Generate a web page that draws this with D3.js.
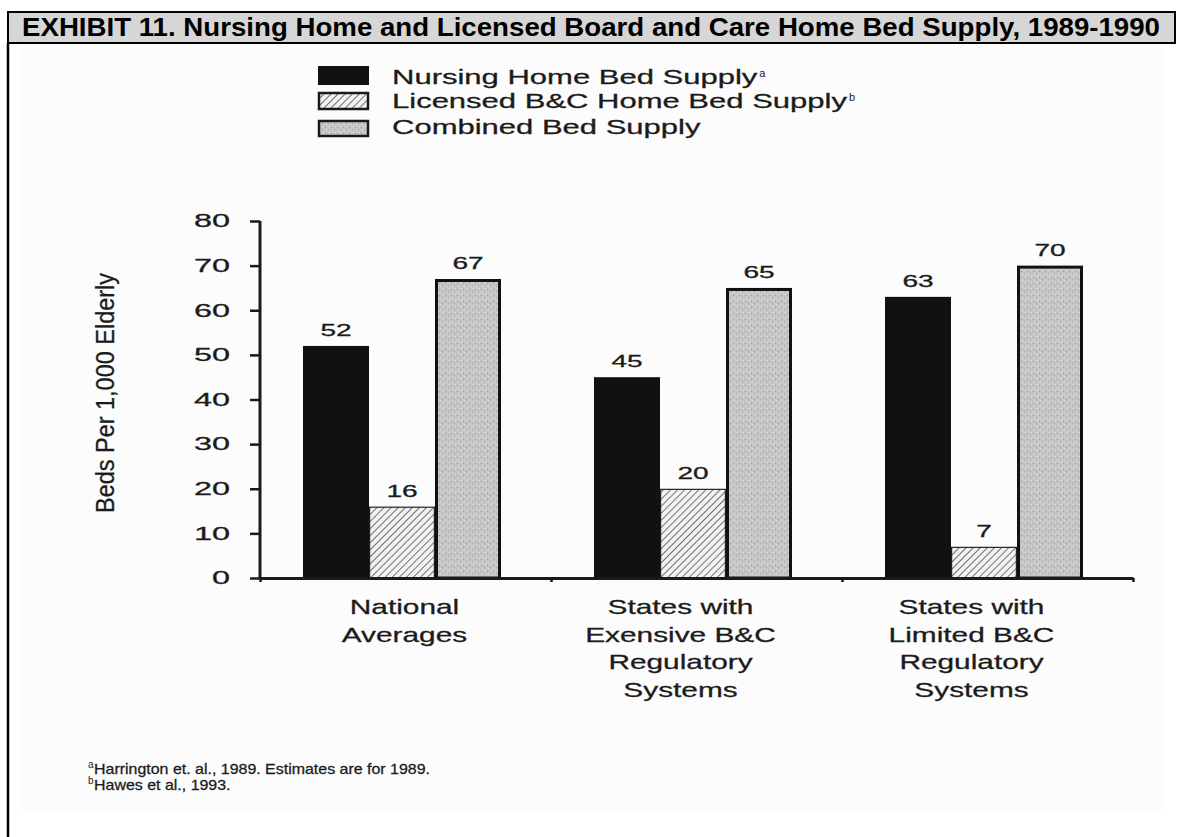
<!DOCTYPE html>
<html>
<head>
<meta charset="utf-8">
<script src="https://cdn.jsdelivr.net/npm/d3@7"></script>
<style>
  body { margin: 0; background: #fff; }
  svg text { font-family: "Liberation Sans", Arial, sans-serif; fill: #1b1b1b; }
  .scan { stroke: #1b1b1b; stroke-width: 0.28; }
  .title { font-weight: bold; fill: #000; }
</style>
</head>
<body>
<div id="chart"></div>
<script>
var svgWidth = 1177;
var svgHeight = 837;

// chart values
var categories = [
  ["National", "Averages"],
  ["States with", "Exensive B&C", "Regulatory", "Systems"],
  ["States with", "Limited B&C", "Regulatory", "Systems"]
];
var seriesNames = ["Nursing Home Bed Supply", "Licensed B&C Home Bed Supply", "Combined Bed Supply"];
var seriesSup = ["a", "b", ""];
var nursingHome = [52, 45, 63];
var licensedBC = [16, 20, 7];
var combined = [67, 65, 70];
var yTicks = [0, 10, 20, 30, 40, 50, 60, 70, 80];
var footnotes = [
  ["a", "Harrington et. al., 1989.  Estimates are for 1989."],
  ["b", "Hawes et al., 1993."]
];

var series = [nursingHome, licensedBC, combined];

var svg = d3.select("#chart")
  .append("svg")
  .attr("width", svgWidth)
  .attr("height", svgHeight);

// stretch text horizontally, the scanned type is wide
function stretch(sel, k) {
  sel.each(function() {
    var w = this.getComputedTextLength();
    d3.select(this).attr("textLength", w * k).attr("lengthAdjust", "spacingAndGlyphs");
  });
}

var defs = svg.append("defs");

var hatch = defs.append("pattern")
  .attr("id", "hatch")
  .attr("patternUnits", "userSpaceOnUse")
  .attr("width", 5)
  .attr("height", 5)
  .attr("patternTransform", "rotate(45)");
hatch.append("rect").attr("width", 5).attr("height", 5).attr("fill", "#f2f2f2");
hatch.append("line")
  .attr("x1", 0).attr("y1", 0).attr("x2", 0).attr("y2", 5)
  .attr("stroke", "#3a3a3a").attr("stroke-width", 1.4);

var dots = defs.append("pattern")
  .attr("id", "dots")
  .attr("patternUnits", "userSpaceOnUse")
  .attr("width", 6)
  .attr("height", 6);
dots.append("rect").attr("width", 6).attr("height", 6).attr("fill", "#c6c6c6");
dots.append("rect").attr("x", 1).attr("y", 1).attr("width", 1).attr("height", 1).attr("fill", "#959595");
dots.append("rect").attr("x", 4).attr("y", 3).attr("width", 1).attr("height", 1).attr("fill", "#a2a2a2");
dots.append("rect").attr("x", 2).attr("y", 4).attr("width", 1).attr("height", 1).attr("fill", "#e0e0e0");
dots.append("rect").attr("x", 5).attr("y", 0).attr("width", 1).attr("height", 1).attr("fill", "#e4e4e4");

var fills = ["#111", "url(#hatch)", "url(#dots)"];
var strokes = [{ c: "#111", w: 0 }, { c: "#222", w: 1.2 }, { c: "#111", w: 3 }];

// scanned area and frame
svg.append("rect")
  .attr("x", 22).attr("y", 44).attr("width", 1140).attr("height", 768)
  .attr("fill", "#fcfcfc");

svg.append("rect")
  .attr("x", 8).attr("y", 12).attr("width", 1167).attr("height", 31)
  .attr("fill", "#d6d6d6").attr("stroke", "#000").attr("stroke-width", 2);

svg.append("line")
  .attr("x1", 8).attr("y1", 43).attr("x2", 8).attr("y2", svgHeight)
  .attr("stroke", "#000").attr("stroke-width", 2.5);

svg.append("text")
  .attr("class", "title")
  .attr("x", 22)
  .attr("y", 36)
  .attr("font-size", 25)
  .attr("textLength", 1138)
  .attr("lengthAdjust", "spacingAndGlyphs")
  .text("EXHIBIT 11. Nursing Home and Licensed Board and Care Home Bed Supply, 1989-1990");

// scales
var xEdge = d3.scaleLinear().domain([0, 3]).range([260, 1133]);
var x0 = d3.scaleBand().domain(d3.range(categories.length)).range([260, 1133]);
var x1 = d3.scaleBand().domain(d3.range(series.length)).range([43, 241]);
var y = d3.scaleLinear().domain([0, 80]).range([578, 221]);

// bars
series.forEach(function(vals, s) {
  var g = svg.append("g");
  g.selectAll("rect")
    .data(vals)
    .enter()
    .append("rect")
    .attr("x", (d, i) => x0(i) + x1(s) + strokes[s].w / 2)
    .attr("y", d => y(d) + strokes[s].w / 2)
    .attr("width", x1.bandwidth() - strokes[s].w)
    .attr("height", d => y(0) - y(d) - strokes[s].w / 2)
    .attr("fill", fills[s])
    .attr("stroke", strokes[s].w ? strokes[s].c : "none")
    .attr("stroke-width", strokes[s].w);

  g.selectAll("text")
    .data(vals)
    .enter()
    .append("text")
    .attr("class", "scan")
    .attr("x", (d, i) => x0(i) + x1(s) + x1.bandwidth() / 2)
    .attr("y", d => y(d) - 10)
    .attr("text-anchor", "middle")
    .attr("font-size", 16)
    .text(d => d)
    .call(stretch, 1.75);
});

// y axis
var leftAxis = d3.axisLeft(y).tickValues(yTicks).tickSize(10).tickPadding(20);
var yAxis = svg.append("g")
  .attr("transform", "translate(260,0)")
  .call(leftAxis);
yAxis.select(".domain").attr("stroke", "#1a1a1a").attr("stroke-width", 3).attr("d", "M0," + y(80) + "V" + y(0));
yAxis.selectAll(".tick line").attr("stroke", "#1a1a1a").attr("stroke-width", 2.5);
yAxis.selectAll(".tick text")
  .attr("class", "scan")
  .attr("font-size", 18)
  .attr("font-family", "Liberation Sans, Arial, sans-serif")
  .attr("fill", "#1b1b1b")
  .call(stretch, 1.8);

// x axis, ticks at category edges
var bottomAxis = d3.axisBottom(xEdge).ticks(3).tickSize(4).tickSizeOuter(0).tickFormat("");
var xAxis = svg.append("g")
  .attr("transform", "translate(0," + y(0) + ")")
  .call(bottomAxis);
xAxis.select(".domain").attr("stroke", "#1a1a1a").attr("stroke-width", 3);
xAxis.selectAll(".tick line").attr("stroke", "#1a1a1a").attr("stroke-width", 2.5);

// category labels
categories.forEach(function(lines, i) {
  svg.selectAll(null)
    .data(lines)
    .enter()
    .append("text")
    .attr("class", "scan")
    .attr("x", x0(i) + x0.bandwidth() / 2 - (i ? 16 : 1))
    .attr("y", (d, j) => 614 + j * 27.5)
    .attr("text-anchor", "middle")
    .attr("font-size", 21)
    .text(d => d)
    .call(stretch, 1.42);
});

// y label
svg.append("text")
  .attr("class", "scan")
  .attr("transform", "translate(114,393) rotate(-90)")
  .attr("text-anchor", "middle")
  .attr("font-size", 26)
  .attr("textLength", 240)
  .attr("lengthAdjust", "spacingAndGlyphs")
  .text("Beds Per 1,000 Elderly");

// legend
var legendBoxes = [[66, 19], [92, 18], [120, 17]];
var legendBase = [84, 108, 134];
seriesNames.forEach(function(name, s) {
  svg.append("rect")
    .attr("x", 318 + (s ? 1 : 0))
    .attr("y", legendBoxes[s][0] + (s ? 1 : 0))
    .attr("width", 51 - (s ? 2 : 0))
    .attr("height", legendBoxes[s][1] - (s ? 2 : 0))
    .attr("fill", fills[s])
    .attr("stroke", "#1a1a1a")
    .attr("stroke-width", s ? 2.5 : 0);

  var t = svg.append("text")
    .attr("class", "scan")
    .attr("x", 392)
    .attr("y", legendBase[s])
    .attr("font-size", 20)
    .text(name);
  t.call(stretch, 1.55);
  var end = 392 + +t.attr("textLength");
  if (seriesSup[s]) {
    svg.append("text")
      .attr("x", end + 2)
      .attr("y", legendBase[s] - 7)
      .attr("font-size", 11)
      .text(seriesSup[s]);
  }
});

// footnotes
footnotes.forEach(function(f, i) {
  svg.append("text")
    .attr("x", 88)
    .attr("y", 768 + i * 16)
    .attr("font-size", 10)
    .text(f[0]);
  svg.append("text")
    .attr("class", "scan")
    .attr("x", 94)
    .attr("y", 774 + i * 16)
    .attr("font-size", 14.5)
    .text(f[1])
    .call(stretch, 1.1);
});
</script>
</body>
</html>
